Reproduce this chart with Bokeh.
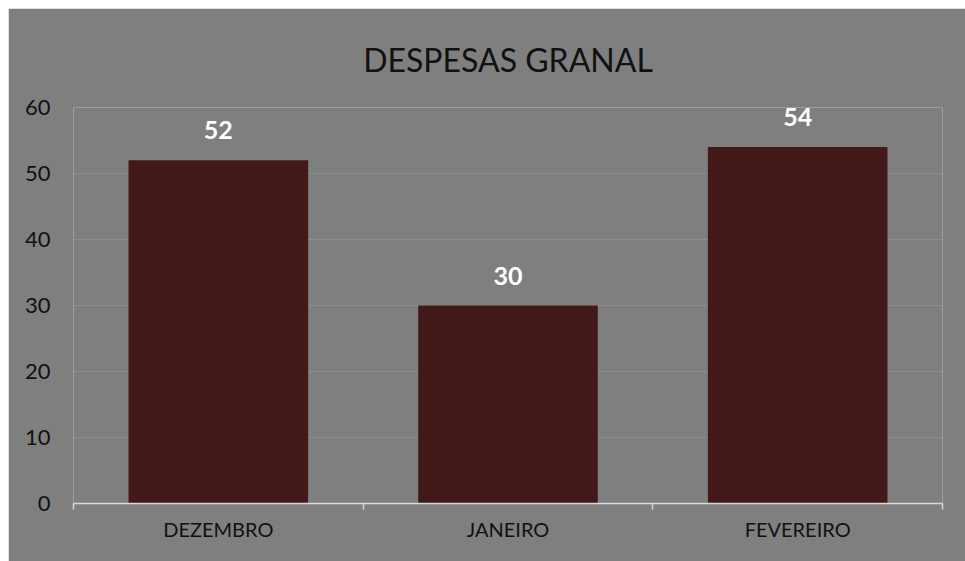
from bokeh.plotting import figure
from bokeh.models import Range1d, FixedTicker, ColumnDataSource, LabelSet
from bokeh.core.properties import value
from bokeh.embed import file_html
from bokeh.resources import INLINE

categories = ["DEZEMBRO", "JANEIRO", "FEVEREIRO"]
values = [52, 30, 54]
y_ticks = [0, 10, 20, 30, 40, 50, 60]
title_text = "DESPESAS GRANAL"

BG = "#7f7f7f"
BAR = "#431818"
FONT = "Lato"

xs = [i + 0.5 for i in range(len(categories))]
src = ColumnDataSource(dict(x=xs, top=values, label=[str(v) for v in values]))

p = figure(
    output_backend="svg", toolbar_location=None,
    frame_width=869, frame_height=396,
    min_border_left=65, min_border_right=23, min_border_top=99, min_border_bottom=58,
    x_range=Range1d(0, len(categories)), y_range=Range1d(0, 60),
    title=title_text,
)
p.styles = {"margin-left": "8px", "margin-top": "8px"}
p.background_fill_color = BG
p.border_fill_color = BG
p.outline_line_color = None

p.title.align = "center"
p.title.text_font = FONT
p.title.text_font_size = "32px"
p.title.text_font_style = "normal"
p.title.text_color = "#111111"
p.title.standoff = 57

p.vbar(x="x", top="top", width=0.62, source=src, fill_color=BAR, line_color=None)
labels = LabelSet(x="x", y="top", text="label", source=src, y_offset=30,
                  text_align="center", text_baseline="middle", text_color="white",
                  text_font=value(FONT), text_font_style="bold", text_font_size="25px")
p.add_layout(labels)

xa = p.xaxis[0]
xa.ticker = FixedTicker(ticks=xs, minor_ticks=list(range(len(categories) + 1)))
xa.major_label_overrides = {x: c for x, c in zip(xs, categories)}
xa.major_tick_line_color = None
xa.minor_tick_line_color = "#d9d9d9"
xa.minor_tick_line_width = 1.5
xa.minor_tick_out = 6
xa.minor_tick_in = 0
xa.axis_line_color = "#d9d9d9"
xa.axis_line_width = 1.5
xa.major_label_standoff = 7
xa.major_label_text_font = FONT
xa.major_label_text_font_size = "20px"
xa.major_label_text_color = "#111111"

ya = p.yaxis[0]
ya.ticker = FixedTicker(ticks=y_ticks, minor_ticks=[])
ya.axis_line_color = None
ya.major_tick_line_color = None
ya.minor_tick_line_color = None
ya.major_label_standoff = 17
ya.major_label_text_font = FONT
ya.major_label_text_font_size = "22px"
ya.major_label_text_color = "#111111"

p.xgrid.grid_line_color = None
p.ygrid.ticker = FixedTicker(ticks=y_ticks)
p.ygrid.grid_line_color = "#8d8d8d"
p.ygrid.grid_line_width = 1.2

open("out.html", "w").write(file_html(p, INLINE))
